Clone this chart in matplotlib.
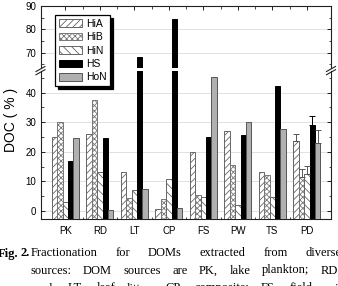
import matplotlib
matplotlib.use('Agg')
import matplotlib.pyplot as plt
import numpy as np
from matplotlib.patches import Patch
from matplotlib.lines import Line2D

plt.rcParams['font.family'] = ['Liberation Sans', 'DejaVu Sans']
plt.rcParams['hatch.linewidth'] = 0.6

# data (DOC %)
sources = ['PK', 'RD', 'LT', 'CP', 'FS', 'PW', 'TS', 'PD']
fractions = ['HiA', 'HiB', 'HiN', 'HS', 'HoN']
hia = [25.1, 26.0, 13.1, 0.6, 19.9, 26.9, 13.3, 23.7]
hib = [30.0, 37.5, 4.3, 4.0, 5.5, 15.4, 12.2, 11.4]
hin = [3.2, 13.1, 7.2, 10.7, 4.6, 2.0, 4.6, 12.4]
hs = [16.9, 24.5, 68.3, 84.4, 25.0, 25.7, 42.4, 28.9]
hon = [24.8, 0.2, 7.5, 1.0, 45.2, 30.1, 27.7, 23.1]
pd_err = [2.3, 2.7, 2.7, 3.1, 4.1]   # upper error bars, PD only

series = [hia, hib, hin, hs, hon]
styles = [
    dict(facecolor='white', edgecolor='#666666', hatch='/////'),
    dict(facecolor='white', edgecolor='#777777', hatch='xxxxxx'),
    dict(facecolor='white', edgecolor='#666666', hatch='\\\\\\\\'),
    dict(facecolor='black', edgecolor='black'),
    dict(facecolor='#b0b0b0', edgecolor='#555555'),
]
ecolors = ['#555555', '#555555', '#555555', 'black', '#555555']

W, H = 338, 286
fig = plt.figure(figsize=(W / 100, H / 100), dpi=100)

ax_top = fig.add_axes([40.5 / W, 1 - 67.5 / H, 290.5 / W, 61.5 / H])
ax_bot = fig.add_axes([40.5 / W, 1 - 219.3 / H, 290.5 / W, 148.3 / H])
ax_top.set_ylim(63.7, 90)
ax_bot.set_ylim(-2.8, 47.3)

x = np.arange(len(sources))
w = 0.155
base = -2.8
for ax in (ax_top, ax_bot):
    for i, (vals, st) in enumerate(zip(series, styles)):
        ax.bar(x + (i - 2) * w, np.array(vals) - base, w, bottom=base,
               linewidth=0.7, zorder=3, **st)
    ax.set_xlim(-0.72, 7.7)
    ax.set_axisbelow(True)
    ax.yaxis.grid(True, color='#dcdcdc', lw=0.6)
    ax.tick_params(direction='in', labelsize=7, width=0.6, length=3, pad=3)
    ax.tick_params(which='minor', direction='in', width=0.5, length=1.8)
    for s in ax.spines.values():
        s.set_linewidth(0.8)
        s.set_color('#222222')

# error bars on PD
for i, (vals, err) in enumerate(zip(series, pd_err)):
    ax_bot.errorbar(7 + (i - 2) * w, vals[7], yerr=[[0], [err]], fmt='none',
                    ecolor=ecolors[i], elinewidth=0.7, capsize=2, capthick=0.7,
                    zorder=4)

ax_top.set_yticks([70, 80, 90])
ax_top.set_yticks([65, 75, 85], minor=True)
ax_bot.set_yticks([0, 10, 20, 30, 40])
ax_bot.set_yticks([5, 15, 25, 35, 45], minor=True)

ax_top.spines['bottom'].set_visible(False)
ax_bot.spines['top'].set_visible(False)
ax_top.set_xticks(x)
ax_top.set_xticks(x[:-1] + 0.5, minor=True)
ax_top.tick_params(axis='x', which='both', bottom=False, top=True,
                   labelbottom=False)
ax_top.tick_params(axis='y', which='both', right=True)
ax_bot.set_xticks(x)
ax_bot.set_xticks(x[:-1] + 0.5, minor=True)
ax_bot.set_xticklabels(sources)
ax_bot.tick_params(axis='x', which='both', top=False, pad=5)
ax_bot.tick_params(axis='y', which='both', right=True)

# break marks on both side spines
for xs in (40.5, 331):
    for dy in (0, 3.2):
        fig.add_artist(Line2D([(xs - 4.5) / W, (xs + 4.5) / W],
                              [1 - (71.5 + dy) / H, 1 - (66.5 + dy) / H],
                              color='#222222', lw=0.8))

fig.text(11 / W, 1 - 120 / H, 'DOC ( % )', rotation=90, ha='center',
         va='center', fontsize=10)

handles = [Patch(linewidth=0.7, **st) for st in styles]
leg = fig.legend(handles, fractions, loc='upper left',
                 bbox_to_anchor=(55 / W, 1 - 15 / H), fontsize=7.5,
                 frameon=True, fancybox=False, edgecolor='black',
                 framealpha=1, borderpad=0.35, handlelength=2.2,
                 handleheight=0.75, handletextpad=0.4, labelspacing=0.33,
                 borderaxespad=0,
                 shadow={'ox': 2.4, 'oy': -2.4, 'color': 'black', 'alpha': 1})
leg.get_frame().set_linewidth(0.9)

# caption (justified, cut by the image border)
renderer = fig.canvas.get_renderer()


def justify(words, y_px, x0, x1, size=9):
    texts = [fig.text(0, 1 - y_px / H, wd, fontsize=size,
                      family='Liberation Serif', va='baseline') for wd in words]
    widths = [t.get_window_extent(renderer).width for t in texts]
    gap = (x1 - x0 - sum(widths)) / (len(words) - 1)
    pos = x0
    for t, wd in zip(texts, widths):
        t.set_x(pos / W)
        pos += wd + gap


fig.text(-2.5 / W, 1 - 256.5 / H, 'Fig.', fontsize=9, fontweight='bold',
         family='Liberation Serif', va='baseline')
fig.text(20.5 / W, 1 - 256.5 / H, '2.', fontsize=9, fontweight='bold',
         family='Liberation Serif', va='baseline')
justify('Fractionation for DOMs extracted from diverse'.split(), 256.5, 30.7, 342)
justify('sources: DOM sources are PK, lake plankton; RD,'.split(), 273.5, 30.7, 341)
justify('road; LT, leaf litter; CP, composite; FS, field soil;'.split(), 291, 30.7, 346)

fig.savefig('out.png', dpi=100)
